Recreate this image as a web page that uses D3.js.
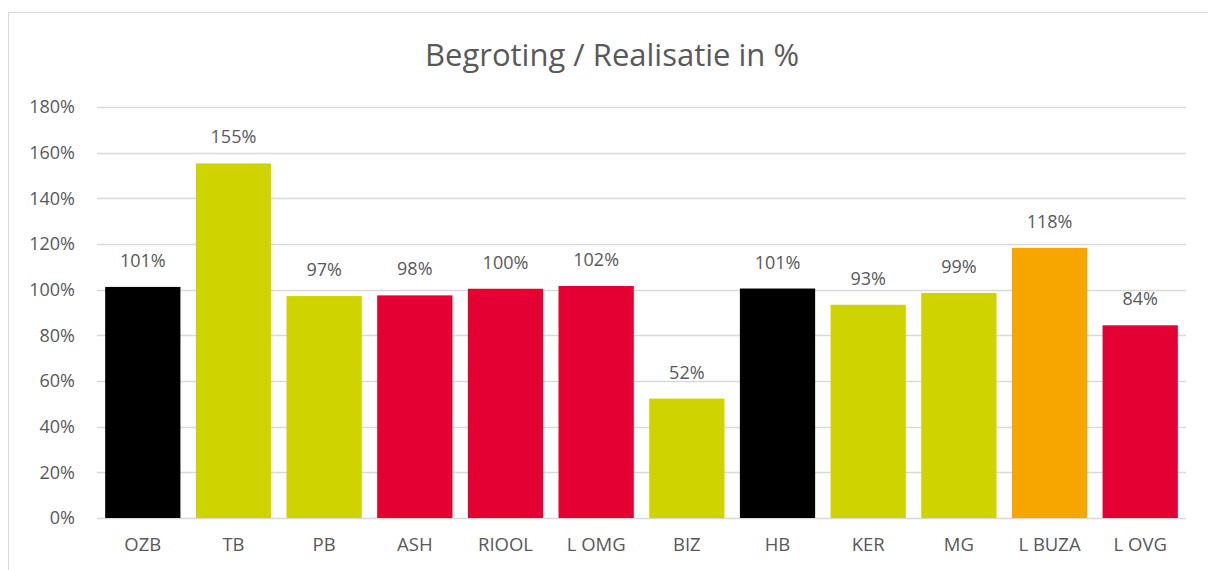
<!DOCTYPE html>
<meta charset="utf-8">
<script src="https://d3js.org/d3.v7.min.js"></script>
<style>
    body { margin: 0; background: #fff; }
    text { font-family: "Open Sans", sans-serif; fill: #595959; }
</style>
<div id="chart"></div>
<script>
    // data
    var categories = ["OZB", "TB", "PB", "ASH", "RIOOL", "L OMG", "BIZ", "HB", "KER", "MG", "L BUZA", "L OVG"]
    var values = [101.2, 155.3, 97.2, 97.5, 100.4, 101.6, 52.3, 100.5, 93.4, 98.6, 118.3, 84.4]
    var labels = ["101%", "155%", "97%", "98%", "100%", "102%", "52%", "101%", "93%", "99%", "118%", "84%"]
    var groups = ["black", "green", "green", "red", "red", "red", "green", "black", "green", "green", "orange", "red"]
    var yTicks = [0, 20, 40, 60, 80, 100, 120, 140, 160, 180]

    var width = 1208
    var height = 570
    var margin = { top: 107, right: 22, bottom: 52, left: 97 }

    var color = d3.scaleOrdinal()
        .domain(["black", "green", "red", "orange"])
        .range(["#000000", "#cfd400", "#e40032", "#f7a600"])

    var svg = d3.select("#chart")
        .append("svg")
        .attr("width", width)
        .attr("height", height)

    // chart frame
    svg.append("rect")
        .attr("x", 8.5)
        .attr("y", 12.5)
        .attr("width", 1250)
        .attr("height", 600)
        .attr("fill", "#fff")
        .attr("stroke", "#d9d9d9")

    svg.append("text")
        .attr("x", 612)
        .attr("y", 66)
        .attr("text-anchor", "middle")
        .style("font-size", "31px")
        .text("Begroting / Realisatie in %")

    var x = d3.scaleBand()
        .domain(categories)
        .range([margin.left, width - margin.right])
        .paddingInner(0.17)
        .paddingOuter(0.09)

    var y = d3.scaleLinear()
        .domain([0, 180])
        .range([height - margin.bottom, margin.top])

    // gridlines
    svg.append("g")
        .selectAll("line")
        .data(yTicks)
        .enter()
        .append("line")
        .attr("x1", margin.left)
        .attr("x2", width - margin.right)
        .attr("y1", function (d) { return Math.round(y(d)) + 0.5 })
        .attr("y2", function (d) { return Math.round(y(d)) + 0.5 })
        .attr("stroke", "#d9d9d9")
        .attr("stroke-width", 1.3)

    var yAxis = svg.append("g")
        .attr("transform", "translate(" + (margin.left - 22) + ",0)")
        .call(d3.axisLeft(y).tickValues(yTicks).tickSize(0).tickPadding(0)
            .tickFormat(function (d) { return d + "%" }))
    yAxis.select(".domain").remove()
    yAxis.selectAll("text").style("font-size", "18px").attr("fill", "#595959")

    var data = categories.map(function (c, i) {
        return { cat: c, value: values[i], label: labels[i], group: groups[i] }
    })

    svg.append("g")
        .selectAll("rect")
        .data(data)
        .enter()
        .append("rect")
        .attr("x", function (d) { return x(d.cat) })
        .attr("width", x.bandwidth())
        .attr("y", function (d) { return y(d.value) })
        .attr("height", function (d) { return y(0) - y(d.value) })
        .attr("fill", function (d) { return color(d.group) })

    svg.append("g")
        .selectAll("text")
        .data(data)
        .enter()
        .append("text")
        .attr("x", function (d) { return x(d.cat) + x.bandwidth() / 2 })
        .attr("y", function (d) { return y(d.value) - 20 })
        .attr("text-anchor", "middle")
        .style("font-size", "18px")
        .text(function (d) { return d.label })

    var xAxis = svg.append("g")
        .attr("transform", "translate(0," + y(0) + ")")
        .call(d3.axisBottom(x).tickSize(0).tickPadding(20))
    xAxis.select(".domain").remove()
    xAxis.selectAll("text").style("font-size", "18.5px").attr("fill", "#595959")
</script>
